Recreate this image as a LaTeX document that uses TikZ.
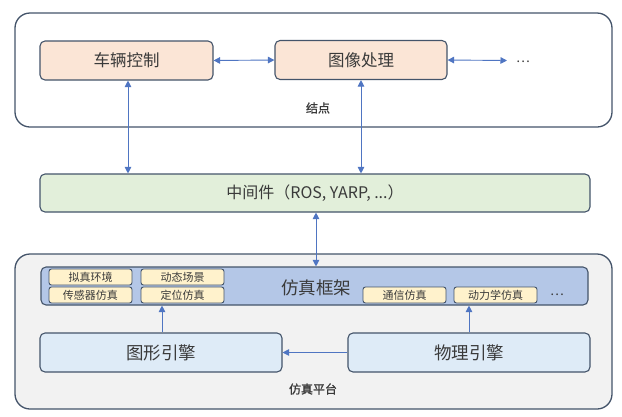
\documentclass[tikz,border=0pt]{standalone}
\usepackage{fontspec}
\setmainfont{Noto Sans CJK SC}
\newfontfamily\semibold[FakeBold=1.2]{Noto Sans CJK SC}
\usetikzlibrary{arrows.meta}
\definecolor{bordc}{HTML}{44546A}
\definecolor{arrc}{HTML}{4F75C2}
\definecolor{txtc}{HTML}{3A3A3A}
\definecolor{peach}{HTML}{FBE5D6}
\definecolor{mgreen}{HTML}{E2EFDA}
\definecolor{fblue}{HTML}{B4C7E7}
\definecolor{syellow}{HTML}{FFF2CC}
\definecolor{eblue}{HTML}{DEEBF7}
\definecolor{pgrey}{HTML}{F2F2F2}
\begin{document}
\begin{tikzpicture}[x=1pt,y=-1pt,
  outerbox/.style={draw=bordc,line width=1.3pt,rounded corners=15pt},
  mainbox/.style={draw=bordc,line width=1.1pt,rounded corners=5pt,inner sep=0pt,text=txtc},
  smallbox/.style={draw=bordc,line width=0.9pt,rounded corners=2.5pt,fill=syellow,inner sep=0pt,
    minimum width=83pt,minimum height=16pt,text=txtc,font=\fontsize{11pt}{12pt}\selectfont},
  lbl/.style={text=txtc,inner sep=0pt},
  link/.style={draw=arrc,line width=0.9pt,{Triangle[width=6.5pt,length=6.5pt]}-{Triangle[width=6.5pt,length=6.5pt]}},
  onelink/.style={draw=arrc,line width=0.9pt,-{Triangle[width=6.5pt,length=6.5pt]}}
]
\useasboundingbox (0,0) rectangle (622,416);
% outer containers
\draw[outerbox,fill=white] (15,13) rectangle (612,127);
\draw[outerbox,fill=pgrey] (15,254) rectangle (612,409);
% top nodes
\node[mainbox,fill=peach,minimum width=173pt,minimum height=39pt,font=\fontsize{16.5pt}{18pt}\selectfont] (car) at (126.5,60.5) {车辆控制};
\node[mainbox,fill=peach,minimum width=172pt,minimum height=39pt,font=\fontsize{16.5pt}{18pt}\selectfont] (img) at (361,60) {图像处理};
\coordinate (dotsend) at (507,60.5);
\node[lbl,font=\fontsize{13pt}{14pt}\selectfont] (dots1) at (523,62) {…};
\node[lbl,font=\semibold\fontsize{12pt}{14pt}\selectfont] (jd) at (318,108) {结点};
% middleware
\node[mainbox,fill=mgreen,minimum width=550pt,minimum height=38pt,font=\fontsize{16pt}{18pt}\selectfont] (mw) at (315,193) {中间件（ROS, YARP, ...）};
% simulation framework
\node[mainbox,fill=fblue,minimum width=547pt,minimum height=38pt] (fw) at (314.5,286) {};
\node[lbl,font=\fontsize{17.5pt}{19pt}\selectfont] (fwt) at (316,288) {仿真框架};
\node[smallbox] (s1) at (90.5,277) {拟真环境};
\node[smallbox] (s2) at (182.5,277) {动态场景};
\node[smallbox] (s3) at (90.5,295) {传感器仿真};
\node[smallbox] (s4) at (182.5,295) {定位仿真};
\node[smallbox] (s5) at (404.5,295) {通信仿真};
\node[smallbox] (s6) at (495.5,295) {动力学仿真};
\node[lbl,font=\fontsize{13pt}{14pt}\selectfont] (dots2) at (557,295) {…};
% engines
\node[mainbox,fill=eblue,minimum width=242pt,minimum height=39pt,font=\fontsize{17.5pt}{19pt}\selectfont] (ge) at (161,352.5) {图形引擎};
\node[mainbox,fill=eblue,minimum width=242pt,minimum height=39pt,font=\fontsize{17.5pt}{19pt}\selectfont] (pe) at (469,352.5) {物理引擎};
\node[lbl,font=\semibold\fontsize{12pt}{14pt}\selectfont] (pt) at (313,389) {仿真平台};
% connectors
\draw[link] (car.east) -- (img.west);
\draw[link] (img.east) -- (dotsend);
\draw[link] ([xshift=1.5pt]car.south) -- ([xshift=1.5pt]car.south |- mw.north);
\draw[link] (img.south) -- (img.south |- mw.north);
\draw[link] ([xshift=1pt]mw.south) -- ([xshift=1pt]mw.south |- fw.north);
\draw[onelink] (pe.west) -- (ge.east);
\draw[onelink] ([xshift=1pt]ge.north) -- ([xshift=1pt]ge.north |- fw.south);
\draw[onelink] (pe.north) -- (pe.north |- fw.south);
\end{tikzpicture}
\end{document}
